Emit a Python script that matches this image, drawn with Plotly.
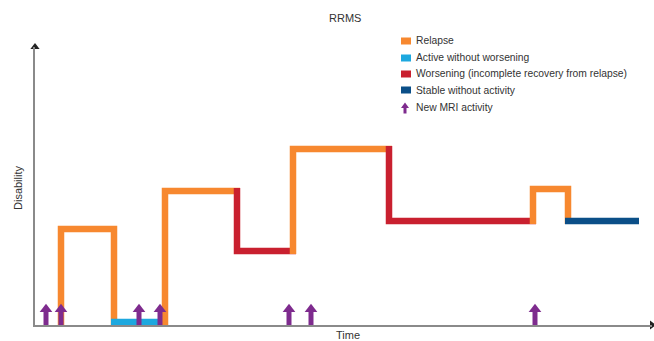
import plotly.graph_objects as go

seg_state = ["Relapse", "Active without worsening", "Relapse",
             "Worsening (incomplete recovery from relapse)", "Relapse",
             "Worsening (incomplete recovery from relapse)", "Relapse",
             "Stable without activity"]
seg_time = [
    [26, 26, 79, 79],
    [79, 130],
    [130, 130, 202],
    [202, 202, 258],
    [258, 258, 354],
    [354, 354, 498],
    [498, 498, 533, 533],
    [533, 601],
]
seg_level = [
    [3, 96, 96, 3],
    [3, 3],
    [3, 134, 134],
    [134, 74, 74],
    [74, 176, 176],
    [176, 104, 104],
    [104, 136, 136, 104],
    [104, 104],
]
mri_times = [11, 26, 104, 125, 254, 276, 500]

legend_labels = ["Relapse", "Active without worsening",
                 "Worsening (incomplete recovery from relapse)",
                 "Stable without activity", "New MRI activity"]

colors = {
    "Relapse": "#F7882F",
    "Active without worsening": "#1DA8DF",
    "Worsening (incomplete recovery from relapse)": "#C9202F",
    "Stable without activity": "#0B4F88",
    "New MRI activity": "#7E2B8E",
}

# ---- layout geometry ----
W, H = 654, 341
ML, MR, MT, MB = 35, 2, 47, 16
XR = W - ML - MR
YR = H - MT - MB
EXT = 3
LW = 6.5


def px(xp, yp):
    return (xp - ML) / XR, (H - MB - yp) / YR


def extend(xs, ys):
    xs, ys = list(xs), list(ys)
    for i, j in ((0, 1), (-1, -2)):
        dx = xs[i] - xs[j]
        dy = ys[i] - ys[j]
        if dx:
            xs[i] += EXT if dx > 0 else -EXT
        if dy:
            ys[i] += EXT if dy > 0 else -EXT
    return xs, ys


fig = go.Figure()
for st, xs, ys in zip(seg_state, seg_time, seg_level):
    ex, ey = extend(xs, ys)
    fig.add_trace(go.Scatter(x=ex, y=ey, mode="lines",
                             line=dict(color=colors[st], width=LW),
                             showlegend=False, cliponaxis=False,
                             hoverinfo="skip"))

# MRI arrows: shaft + head
shaft_x, shaft_y = [], []
for t in mri_times:
    shaft_x += [t, t, None]
    shaft_y += [0, 13, None]
fig.add_trace(go.Scatter(x=shaft_x, y=shaft_y, mode="lines",
                         line=dict(color=colors["New MRI activity"], width=5),
                         showlegend=False, cliponaxis=False, hoverinfo="skip"))
fig.add_trace(go.Scatter(x=mri_times, y=[15.8] * len(mri_times), mode="markers",
                         marker=dict(symbol="triangle-up", size=11,
                                     color=colors["New MRI activity"]),
                         showlegend=False, cliponaxis=False, hoverinfo="skip"))

# axis arrowheads
fig.add_trace(go.Scatter(x=[0], y=[YR], mode="markers",
                         marker=dict(symbol="triangle-up", size=8, color="#222"),
                         showlegend=False, cliponaxis=False, hoverinfo="skip"))
fig.add_trace(go.Scatter(x=[XR], y=[0], mode="markers",
                         marker=dict(symbol="triangle-right", size=8, color="#222"),
                         showlegend=False, cliponaxis=False, hoverinfo="skip"))

FONT = "Liberation Sans, Arial, sans-serif"
annotations = []
shapes = []

# title / axis labels
tx, ty = px(345, 18)
annotations.append(dict(text="RRMS", x=tx, y=ty, xref="paper", yref="paper",
                        xanchor="center", yanchor="middle", showarrow=False,
                        font=dict(size=11, color="#333", family=FONT)))
tx, ty = px(348, 335)
annotations.append(dict(text="Time", x=tx, y=ty, xref="paper", yref="paper",
                        xanchor="center", yanchor="middle", showarrow=False,
                        font=dict(size=11, color="#333", family=FONT)))
tx, ty = px(18, 188)
annotations.append(dict(text="Disability", x=tx, y=ty, xref="paper", yref="paper",
                        xanchor="center", yanchor="middle",
                        textangle=-90, showarrow=False,
                        font=dict(size=11, color="#333", family=FONT)))

# custom legend
rows = [41, 58, 74, 90, 107.5]
for lab, ry in zip(legend_labels, rows):
    lx, ly = px(414, ry)
    annotations.append(dict(text=lab, x=lx, y=ly, xref="paper", yref="paper",
                            xanchor="left", yanchor="middle", showarrow=False,
                            font=dict(size=10.3, color="#333", family=FONT)))
    if lab == "New MRI activity":
        # small arrow icon: shaft + head
        sx, sy0 = px(405, 113.5)
        _, sy1 = px(405, 107)
        shapes.append(dict(type="line", xref="paper", yref="paper",
                           x0=sx, x1=sx, y0=sy0, y1=sy1,
                           line=dict(color=colors[lab], width=3)))
        hx0, hy0 = px(401, 108)
        hx1, _ = px(409, 108)
        hxm, hy1 = px(405, 102.5)
        shapes.append(dict(type="path", xref="paper", yref="paper",
                           path=f"M{hx0},{hy0} L{hx1},{hy0} L{hxm},{hy1} Z",
                           fillcolor=colors[lab], line=dict(width=0)))
    else:
        x0, y0 = px(401, ry + 3.5)
        x1, y1 = px(411, ry - 3.5)
        shapes.append(dict(type="rect", xref="paper", yref="paper",
                           x0=x0, x1=x1, y0=y0, y1=y1,
                           fillcolor=colors[lab], line=dict(width=0)))

fig.update_layout(
    width=W, height=H,
    margin=dict(l=ML, r=MR, t=MT, b=MB),
    plot_bgcolor="white", paper_bgcolor="white",
    xaxis=dict(range=[0, XR], showgrid=False, zeroline=False, showticklabels=False,
               ticks="", showline=True, linecolor="#8a8a8a", linewidth=2, fixedrange=True),
    yaxis=dict(range=[0, YR], showgrid=False, zeroline=False, showticklabels=False,
               ticks="", showline=True, linecolor="#8a8a8a", linewidth=2, fixedrange=True),
    annotations=annotations, shapes=shapes,
    showlegend=False,
)

fig.write_html("out.html", config={"displayModeBar": False},
               post_script="document.body.style.margin='0px';document.body.style.overflow='hidden';")
